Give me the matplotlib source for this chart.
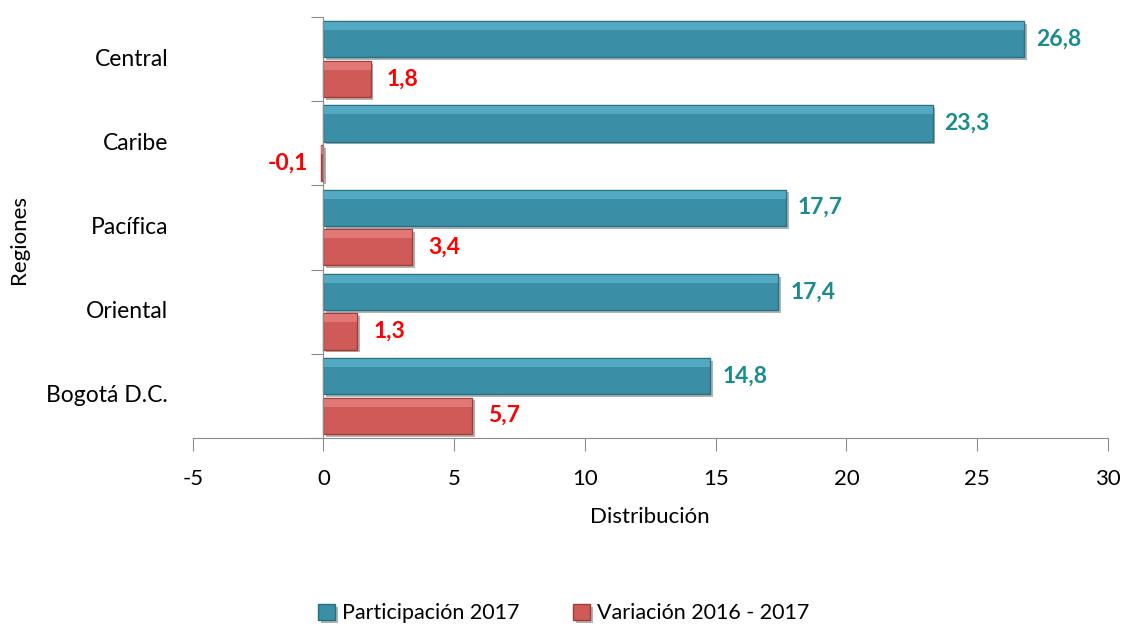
import numpy as np
import matplotlib
matplotlib.use("Agg")
from matplotlib import pyplot as plt
from matplotlib import transforms
import matplotlib.patheffects as pe

regiones = ["Bogotá D.C.", "Oriental", "Pacífica", "Caribe", "Central"]
participacion = [14.8, 17.4, 17.7, 23.3, 26.8]
variacion = [5.7, 1.3, 3.4, -0.1, 1.8]
series = ["Participación 2017", "Variación 2016 - 2017"]
xticks = [-5, 0, 5, 10, 15, 20, 25, 30]

plt.rcParams['font.family'] = ['Lato', 'DejaVu Sans']

teal = "#3A8EA5"
teal_edge = "#2A6F82"
red = "#CF5A57"
red_edge = "#9E3E3B"
teal_txt = "#1A8C8C"

fig = plt.figure(figsize=(11.27, 6.29), dpi=100)
ax = fig.add_axes([0.171, 0.3037, 0.812, 0.6693])

y = np.arange(len(regiones))
h = 0.43
off = 0.235
shadow = [pe.SimplePatchShadow(offset=(2, -2), alpha=0.35), pe.Normal()]

b1 = ax.barh(y + off, participacion, height=h, color=teal, edgecolor=teal_edge,
             linewidth=1, path_effects=shadow, label=series[0])
b2 = ax.barh(y - off, variacion, height=h, color=red, edgecolor=red_edge,
             linewidth=1, path_effects=shadow, label=series[1])
# top highlight for a light bevel look
ax.barh(y + off + h * 0.36, participacion, height=h * 0.22, color="#5FB5CD",
        linewidth=0, alpha=0.7)
ax.barh(y - off + h * 0.36, variacion, height=h * 0.22, color="#EA8682",
        linewidth=0, alpha=0.7)

def fmt(v):
    return ("%.1f" % v).replace(".", ",")

for yi, v in zip(y, participacion):
    ax.text(v + 0.45, yi + off, fmt(v), va="center", ha="left",
            fontsize=16.5, fontweight="bold", color=teal_txt)
for yi, v in zip(y, variacion):
    if v < 0:
        ax.text(v - 0.5, yi - off, fmt(v), va="center", ha="right",
                fontsize=16.5, fontweight="bold", color="#FF0000")
    else:
        ax.text(v + 0.6, yi - off, fmt(v), va="center", ha="left",
                fontsize=16.5, fontweight="bold", color="#FF0000")

ax.set_xlim(-5, 30)
ax.set_ylim(-0.5, len(regiones) - 0.5)
ax.set_xticks(xticks)
ax.set_xticklabels([str(t) for t in xticks], fontsize=16)

ax.spines['top'].set_visible(False)
ax.spines['right'].set_visible(False)
ax.spines['left'].set_position(('data', 0))
ax.spines['left'].set_color("#8C8C8C")
ax.spines['bottom'].set_color("#8C8C8C")
ax.tick_params(axis='x', direction='out', length=9, color="#8C8C8C", pad=13)

ax.set_yticks(np.arange(-0.5, len(regiones), 1.0))
ax.set_yticklabels([])
ax.tick_params(axis='y', direction='out', length=9, color="#8C8C8C")

tr = transforms.blended_transform_factory(ax.transAxes, ax.transData)
for yi, name in zip(y, regiones):
    ax.text(-0.027, yi, name, transform=tr, ha="right", va="center", fontsize=16.5)

ax.set_xlabel("Distribución", fontsize=16, labelpad=13)
fig.text(0.017, 0.62, "Regiones", rotation=90, ha="center", va="center", fontsize=16)

fig.legend(handles=[b1, b2], labels=series, loc="lower center",
           bbox_to_anchor=(0.5, -0.022), ncol=2, frameon=False, fontsize=15.5,
           handlelength=0.8, handleheight=0.8, columnspacing=2.5, handletextpad=0.3)

fig.savefig("out.png", dpi=100)
